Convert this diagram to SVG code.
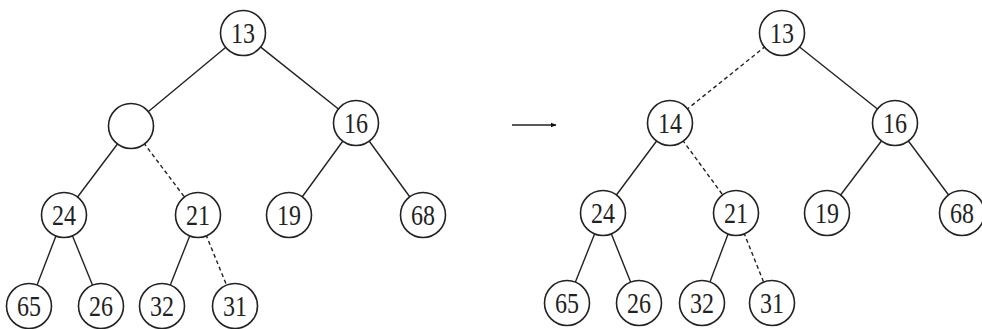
<svg xmlns="http://www.w3.org/2000/svg" width="982" height="329" viewBox="0 0 982 329">
<style>
.n circle{fill:#fff;stroke:#222;stroke-width:1.6}
.n text{font-family:"Liberation Serif","Times New Roman",serif;font-size:29px;fill:#222;text-anchor:middle}
.e line{stroke:#222;stroke-width:1.4}
.e line.d{stroke-dasharray:4 3}
</style>
<defs>
<marker id="ah" viewBox="0 0 10 10" refX="9" refY="5" markerWidth="4" markerHeight="4" orient="auto" markerUnits="strokeWidth">
<path d="M0,1 L10,5 L0,9 z" fill="#111"/>
</marker>
</defs>
<g id="connectors" class="e">
<line x1="243" y1="33" x2="131" y2="126"/>
<line x1="243" y1="33" x2="356" y2="123"/>
<line x1="131" y1="126" x2="64" y2="215"/>
<line class="d" x1="131" y1="126" x2="198" y2="215"/>
<line x1="356" y1="123" x2="289" y2="215"/>
<line x1="356" y1="123" x2="423" y2="215"/>
<line x1="64" y1="215" x2="29" y2="306"/>
<line x1="64" y1="215" x2="101" y2="306"/>
<line x1="198" y1="215" x2="162" y2="306"/>
<line class="d" x1="198" y1="215" x2="235" y2="306"/>
<line class="d" x1="782" y1="33" x2="670" y2="123"/>
<line x1="782" y1="33" x2="895" y2="123"/>
<line x1="670" y1="123" x2="603" y2="213"/>
<line class="d" x1="670" y1="123" x2="736" y2="213"/>
<line x1="895" y1="123" x2="827" y2="213"/>
<line x1="895" y1="123" x2="962" y2="213"/>
<line x1="603" y1="213" x2="567" y2="303"/>
<line x1="603" y1="213" x2="639" y2="303"/>
<line x1="736" y1="213" x2="702" y2="303"/>
<line class="d" x1="736" y1="213" x2="772" y2="303"/>
<line id="arrow" x1="512" y1="125" x2="556" y2="125" stroke-width="1.8" marker-end="url(#ah)"/>
</g>
<g id="L13" class="n"><circle cx="243" cy="33" r="22.5"/><text x="243" y="43" textLength="24" lengthAdjust="spacingAndGlyphs">13</text></g>
<g id="Lhole" class="n"><circle cx="131" cy="126" r="22.5"/></g>
<g id="L16" class="n"><circle cx="356" cy="123" r="22.5"/><text x="356" y="133" textLength="24" lengthAdjust="spacingAndGlyphs">16</text></g>
<g id="L24" class="n"><circle cx="64" cy="215" r="22.5"/><text x="64" y="225" textLength="24" lengthAdjust="spacingAndGlyphs">24</text></g>
<g id="L21" class="n"><circle cx="198" cy="215" r="22.5"/><text x="198" y="225" textLength="24" lengthAdjust="spacingAndGlyphs">21</text></g>
<g id="L19" class="n"><circle cx="289" cy="215" r="22.5"/><text x="289" y="225" textLength="24" lengthAdjust="spacingAndGlyphs">19</text></g>
<g id="L68" class="n"><circle cx="423" cy="215" r="22.5"/><text x="423" y="225" textLength="24" lengthAdjust="spacingAndGlyphs">68</text></g>
<g id="L65" class="n"><circle cx="29" cy="306" r="22.5"/><text x="29" y="316" textLength="24" lengthAdjust="spacingAndGlyphs">65</text></g>
<g id="L26" class="n"><circle cx="101" cy="306" r="22.5"/><text x="101" y="316" textLength="24" lengthAdjust="spacingAndGlyphs">26</text></g>
<g id="L32" class="n"><circle cx="162" cy="306" r="22.5"/><text x="162" y="316" textLength="24" lengthAdjust="spacingAndGlyphs">32</text></g>
<g id="L31" class="n"><circle cx="235" cy="306" r="22.5"/><text x="235" y="316" textLength="24" lengthAdjust="spacingAndGlyphs">31</text></g>
<g id="R13" class="n"><circle cx="782" cy="33" r="22.5"/><text x="782" y="43" textLength="24" lengthAdjust="spacingAndGlyphs">13</text></g>
<g id="R14" class="n"><circle cx="670" cy="123" r="22.5"/><text x="670" y="133" textLength="24" lengthAdjust="spacingAndGlyphs">14</text></g>
<g id="R16" class="n"><circle cx="895" cy="123" r="22.5"/><text x="895" y="133" textLength="24" lengthAdjust="spacingAndGlyphs">16</text></g>
<g id="R24" class="n"><circle cx="603" cy="213" r="22.5"/><text x="603" y="223" textLength="24" lengthAdjust="spacingAndGlyphs">24</text></g>
<g id="R21" class="n"><circle cx="736" cy="213" r="22.5"/><text x="736" y="223" textLength="24" lengthAdjust="spacingAndGlyphs">21</text></g>
<g id="R19" class="n"><circle cx="827" cy="213" r="22.5"/><text x="827" y="223" textLength="24" lengthAdjust="spacingAndGlyphs">19</text></g>
<g id="R68" class="n"><circle cx="962" cy="213" r="22.5"/><text x="962" y="223" textLength="24" lengthAdjust="spacingAndGlyphs">68</text></g>
<g id="R65" class="n"><circle cx="567" cy="303" r="22.5"/><text x="567" y="313" textLength="24" lengthAdjust="spacingAndGlyphs">65</text></g>
<g id="R26" class="n"><circle cx="639" cy="303" r="22.5"/><text x="639" y="313" textLength="24" lengthAdjust="spacingAndGlyphs">26</text></g>
<g id="R32" class="n"><circle cx="702" cy="303" r="22.5"/><text x="702" y="313" textLength="24" lengthAdjust="spacingAndGlyphs">32</text></g>
<g id="R31" class="n"><circle cx="772" cy="303" r="22.5"/><text x="772" y="313" textLength="24" lengthAdjust="spacingAndGlyphs">31</text></g>
</svg>
